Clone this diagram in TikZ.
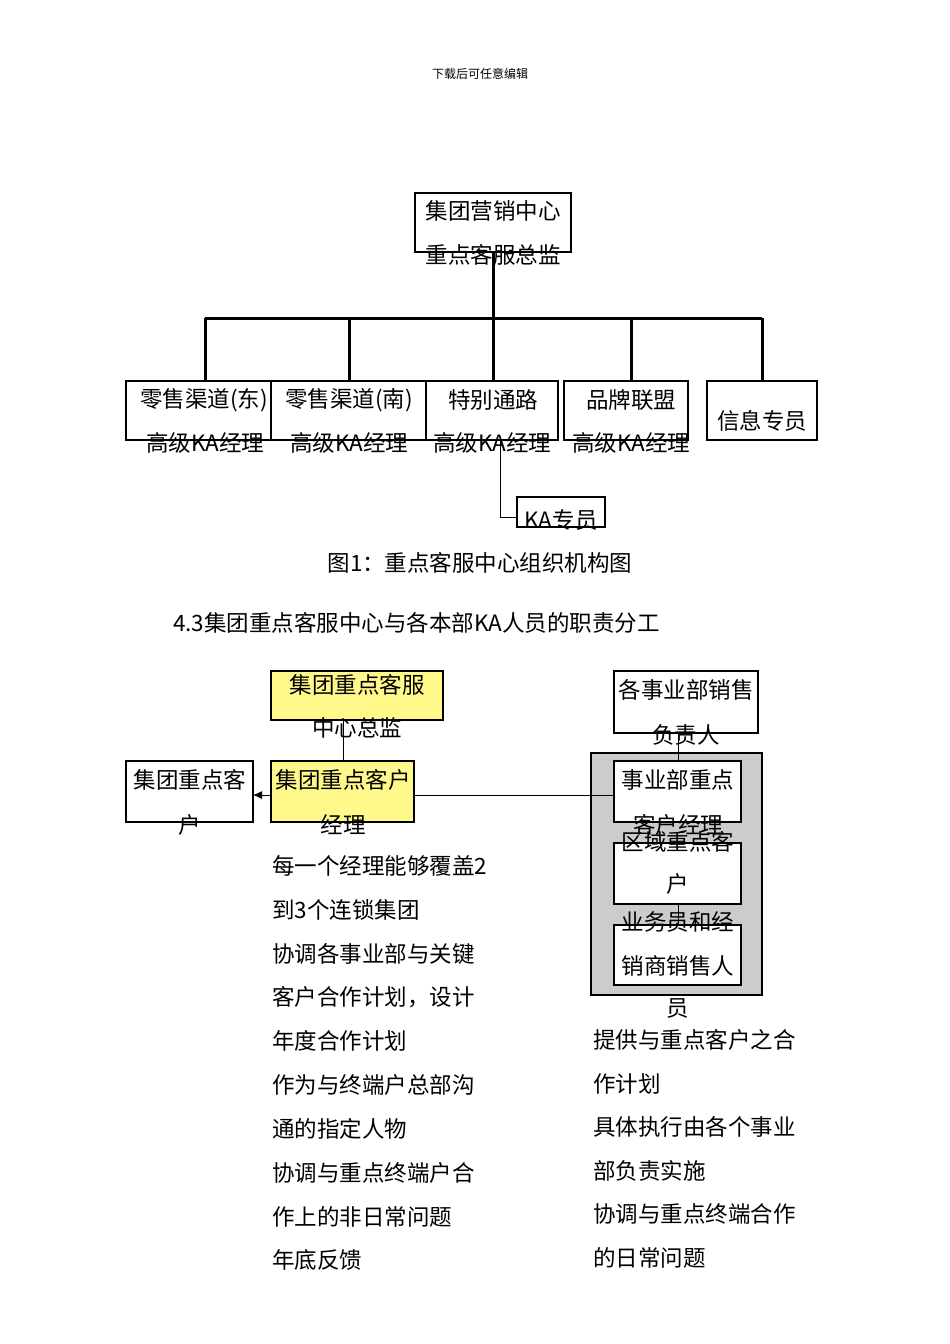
\documentclass[tikz,border=0pt]{standalone}
\usepackage{fontspec}
\usetikzlibrary{arrows.meta}
\setmainfont{Noto Sans CJK SC}
\begin{document}
\begin{tikzpicture}[x=1pt,y=-1pt,
  box/.style={draw,line width=1.2pt,fill=white},
  ybox/.style={draw,line width=1.2pt,fill=yellow!45},
  txt/.style={inner sep=0pt,font=\fontsize{22.5}{22.5}\selectfont},
  thick line/.style={line width=3pt},
  thin/.style={line width=0.8pt}]
\useasboundingbox (0,0) rectangle (950,1344);
\node[inner sep=0pt,font=\fontsize{12}{12}\selectfont] (hdr) at (480,74) {下载后可任意编辑};
% top chart
\draw[box] (415,193) rectangle (571,252);
\node[txt] (t0a) at (493,211) {集团营销中心};
\node[txt] (t0b) at (493,255) {重点客服总监};
\coordinate (j) at (493,318);
\draw[thick line] (493,252) -- (j);
\draw[thick line] (205,318) -- (762,318);
\foreach \x in {205,349,493,631,762} \draw[thick line] (\x,318) -- (\x,381);
\draw[box] (126,381) rectangle (283,440);
\draw[box] (271,381) rectangle (426,440);
\draw[box] (426,381) rectangle (558,440);
\draw[box] (564,381) rectangle (688,440);
\draw[box] (707,381) rectangle (817,440);
\node[txt] (b1a) at (204,400) {零售渠道(东)};
\node[txt] (b1b) at (205,443) {高级KA经理};
\node[txt] (b2a) at (349,400) {零售渠道(南)};
\node[txt] (b2b) at (349,443) {高级KA经理};
\node[txt] (b3a) at (493,400) {特别通路};
\node[txt] (b3b) at (492,443) {高级KA经理};
\node[txt] (b4a) at (631,400) {品牌联盟};
\node[txt] (b4b) at (631,443) {高级KA经理};
\node[txt] (b5) at (762,421) {信息专员};
\draw[box] (517,497) rectangle (605,527);
\node[txt] (ka) at (561,520) {KA专员};
\draw[thin] (500,440) -- (500,517) -- (517,517);
\node[txt] (cap) at (480,563) {图1：重点客服中心组织机构图};
\node[txt,anchor=west] (sec) at (173,623) {4.3集团重点客服中心与各本部KA人员的职责分工};
% bottom chart
\draw[box,fill=gray!40] (591,753) rectangle (762,995);
\draw[thin] (343,720) -- (343,761);
\draw[thin] (414,795) -- (614,795);
\draw[thin] (678,733) -- (678,761);
\draw[thin] (678,904) -- (678,925);
\draw[ybox] (271,671) rectangle (443,720);
\node[txt] (y1a) at (357,685) {集团重点客服};
\node[txt] (y1b) at (357,728) {中心总监};
\draw[ybox] (271,761) rectangle (414,822);
\node[txt] (y2a) at (343,780) {集团重点客户};
\node[txt] (y2b) at (343,825) {经理};
\draw[box] (126,761) rectangle (253,822);
\node[txt] (ca) at (190,780) {集团重点客};
\node[txt] (cb) at (190,825) {户};
\draw[thin,-{Latex[length=9pt,width=8pt]}] (271,795) -- (253,795);
\draw[box] (614,671) rectangle (758,733);
\node[txt] (ra) at (686,690) {各事业部销售};
\node[txt] (rb) at (686,735) {负责人};
\draw[box] (614,761) rectangle (741,822);
\node[txt] (i1a) at (678,780) {事业部重点};
\node[txt] (i1b) at (678,825) {客户经理};
\draw[box] (614,843) rectangle (741,904);
\node[txt] (i2a) at (678,842) {区域重点客};
\node[txt] (i2b) at (678,884) {户};
\draw[box] (614,925) rectangle (741,985);
\node[txt] (i3a) at (678,922) {业务员和经};
\node[txt] (i3b) at (678,966) {销商销售人};
\node[txt] (i3c) at (678,1008) {员};
\foreach \t [count=\i from 0] in {每一个经理能够覆盖2,到3个连锁集团,协调各事业部与关键,客户合作计划，设计,年度合作计划,作为与终端户总部沟,通的指定人物,协调与重点终端户合,作上的非日常问题,年底反馈}
  \node[txt,anchor=west] (l\i) at (272,866+43.8*\i) {\t};
\foreach \t [count=\i from 0] in {提供与重点客户之合,作计划,具体执行由各个事业,部负责实施,协调与重点终端合作,的日常问题}
  \node[txt,anchor=west] (r\i) at (593,1040+43.6*\i) {\t};
\end{tikzpicture}
\end{document}
